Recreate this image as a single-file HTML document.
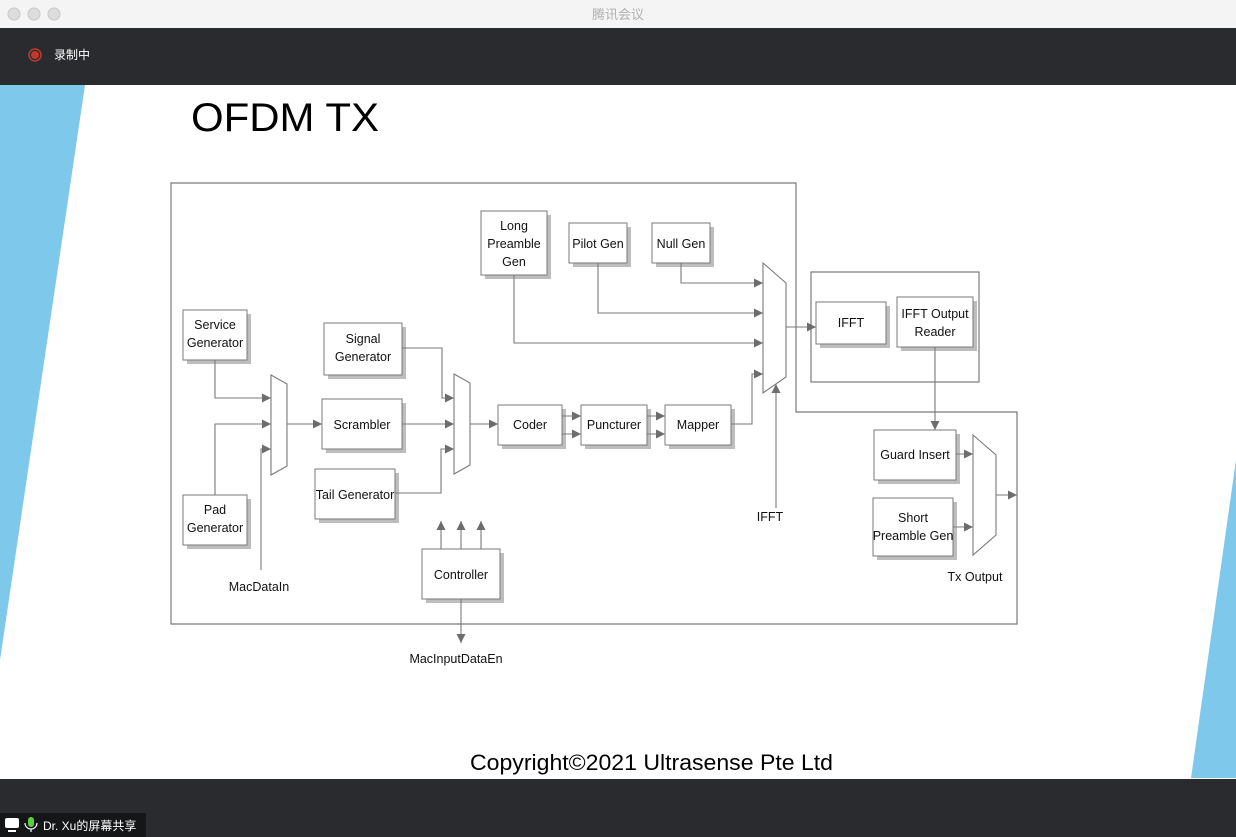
<!DOCTYPE html>
<html><head><meta charset="utf-8"><style>
html,body{margin:0;padding:0;width:1236px;height:837px;overflow:hidden;background:#fff}
svg{display:block}
</style></head><body>
<svg width="1236" height="837" viewBox="0 0 1236 837" xmlns="http://www.w3.org/2000/svg" font-family="Liberation Sans, Noto Sans CJK SC, sans-serif">
<defs>
<marker id="a" viewBox="0 0 10 10" refX="10" refY="5" markerWidth="9" markerHeight="9" markerUnits="userSpaceOnUse" orient="auto"><path d="M0,0L10,5L0,10z" fill="#6d6d6d"/></marker>
</defs>
<rect x="0" y="0" width="1236" height="28" fill="#f4f4f4"/>
<circle cx="14" cy="14" r="6" fill="#dcdcdc" stroke="#c8c8c8"/>
<circle cx="34" cy="14" r="6" fill="#dcdcdc" stroke="#c8c8c8"/>
<circle cx="54" cy="14" r="6" fill="#dcdcdc" stroke="#c8c8c8"/>
<text x="618" y="19" font-size="13" fill="#b0b0b0" text-anchor="middle">腾讯会议</text>
<rect x="0" y="28" width="1236" height="57" fill="#2a2b2f"/>
<circle cx="35" cy="55" r="6" fill="none" stroke="#c0392b" stroke-width="1.5"/>
<circle cx="35" cy="55" r="4" fill="#c0392b"/>
<text x="54" y="59" font-size="12" fill="#fff">录制中</text>
<polygon points="0,85 85,85 0,660" fill="#7ec8ec"/>
<polygon points="1236,460 1236,778 1191,778" fill="#7ec8ec"/>
<text x="191" y="131" font-size="40" fill="#000" textLength="188" lengthAdjust="spacingAndGlyphs">OFDM TX</text>

<g fill="none" stroke="#7a7a7a" stroke-width="1.2">
<path d="M171,183H796V412H1017V624H171Z"/>
<rect x="811" y="272" width="168" height="110"/>
</g>

<g font-size="12.5" fill="#111" text-anchor="middle">
<!-- boxes: shadow + box -->
<g fill="#bdbdbd">
<rect x="187" y="314" width="64" height="50"/><rect x="187" y="499" width="64" height="50"/>
<rect x="328" y="327" width="78" height="52"/><rect x="326" y="403" width="80" height="50"/>
<rect x="319" y="473" width="80" height="50"/><rect x="502" y="409" width="64" height="40"/>
<rect x="585" y="409" width="66" height="40"/><rect x="669" y="409" width="66" height="40"/>
<rect x="485" y="215" width="66" height="64"/><rect x="573" y="227" width="58" height="40"/>
<rect x="656" y="227" width="58" height="40"/><rect x="820" y="306" width="70" height="42"/>
<rect x="901" y="301" width="76" height="50"/><rect x="878" y="434" width="82" height="50"/>
<rect x="877" y="502" width="80" height="58"/><rect x="426" y="553" width="78" height="50"/>
</g>
<g fill="#fff" stroke="#7a7a7a" stroke-width="1">
<rect x="183" y="310" width="64" height="50"/><rect x="183" y="495" width="64" height="50"/>
<rect x="324" y="323" width="78" height="52"/><rect x="322" y="399" width="80" height="50"/>
<rect x="315" y="469" width="80" height="50"/><rect x="498" y="405" width="64" height="40"/>
<rect x="581" y="405" width="66" height="40"/><rect x="665" y="405" width="66" height="40"/>
<rect x="481" y="211" width="66" height="64"/><rect x="569" y="223" width="58" height="40"/>
<rect x="652" y="223" width="58" height="40"/><rect x="816" y="302" width="70" height="42"/>
<rect x="897" y="297" width="76" height="50"/><rect x="874" y="430" width="82" height="50"/>
<rect x="873" y="498" width="80" height="58"/><rect x="422" y="549" width="78" height="50"/>
</g>
<text x="215" y="329">Service</text><text x="215" y="347">Generator</text>
<text x="215" y="514">Pad</text><text x="215" y="532">Generator</text>
<text x="363" y="343">Signal</text><text x="363" y="361">Generator</text>
<text x="362" y="429">Scrambler</text>
<text x="355" y="499">Tail Generator</text>
<text x="530" y="429">Coder</text>
<text x="614" y="429">Puncturer</text>
<text x="698" y="429">Mapper</text>
<text x="514" y="230">Long</text><text x="514" y="248">Preamble</text><text x="514" y="266">Gen</text>
<text x="598" y="248">Pilot Gen</text>
<text x="681" y="248">Null Gen</text>
<text x="851" y="327">IFFT</text>
<text x="935" y="318">IFFT Output</text><text x="935" y="336">Reader</text>
<text x="915" y="459">Guard Insert</text>
<text x="913" y="522">Short</text><text x="913" y="540">Preamble Gen</text>
<text x="461" y="579">Controller</text>
<text x="259" y="591">MacDataIn</text>
<text x="456" y="663">MacInputDataEn</text>
<text x="770" y="521">IFFT</text>
<text x="975" y="581">Tx Output</text>
</g>

<g fill="#fff" stroke="#7a7a7a" stroke-width="1.1">
<polygon points="271,375 287,384 287,466 271,475"/>
<polygon points="454,374 470,383 470,465 454,474"/>
<polygon points="763,263 786,283 786,377 763,393"/>
<polygon points="973,435 996,455 996,535 973,555"/>
</g>

<g fill="none" stroke="#7a7a7a" stroke-width="1.1" marker-end="url(#a)">
<path d="M215,360V398H271"/>
<path d="M215,495V424H271"/>
<path d="M261,570V449H271"/>
<path d="M287,424H322"/>
<path d="M402,348H442V398H454"/>
<path d="M402,424H454"/>
<path d="M395,493H441V449H454"/>
<path d="M470,424H498"/>
<path d="M562,416H581"/>
<path d="M562,434H581"/>
<path d="M647,416H665"/>
<path d="M647,434H665"/>
<path d="M731,424H752V374H763"/>
<path d="M681,263V283H763"/>
<path d="M598,263V313H763"/>
<path d="M514,275V343H763"/>
<path d="M776,508V384"/>
<path d="M786,327H816"/>
<path d="M935,347V430"/>
<path d="M956,454H973"/>
<path d="M953,527H973"/>
<path d="M996,495H1017"/>
<path d="M441,549V521"/>
<path d="M461,549V521"/>
<path d="M481,549V521"/>
<path d="M461,599V643"/>
</g>

<text x="470" y="770" font-size="22" fill="#000" textLength="363" lengthAdjust="spacingAndGlyphs">Copyright©2021 Ultrasense Pte Ltd</text>

<rect x="0" y="779" width="1236" height="58" fill="#2a2b2f"/>
<rect x="0" y="813" width="146" height="24" fill="#151618"/>
<rect x="5" y="818" width="14" height="10" rx="2" fill="#fff"/>
<rect x="8" y="830" width="8" height="2" fill="#fff"/>
<rect x="28" y="817" width="6" height="10" rx="3" fill="#5ad13c"/>
<path d="M25,823a6,6 0 0 0 12,0M31,829v3" stroke="#fff" fill="none" stroke-width="1.2"/>
<text x="43" y="830" font-size="12" fill="#fff">Dr. Xu的屏幕共享</text>
</svg>
</body></html>
